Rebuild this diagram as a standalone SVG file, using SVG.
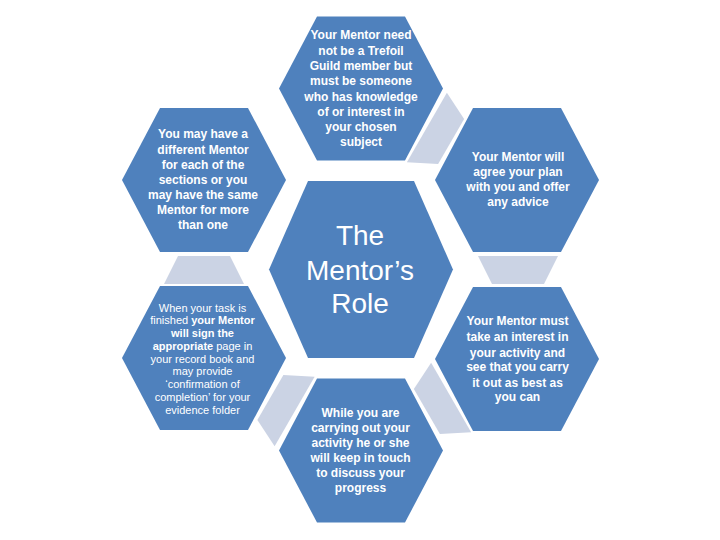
<svg xmlns="http://www.w3.org/2000/svg" width="720" height="540" viewBox="0 0 720 540">
<style>
.hex{fill:#4F81BD}
.con{fill:#CBD3E4}
.t{font-family:"Liberation Sans",Arial,sans-serif;font-size:12px;font-weight:bold;fill:#FFFFFF;text-anchor:middle}
.s{font-family:"Liberation Sans",Arial,sans-serif;font-size:11px;fill:#FFFFFF;text-anchor:middle}
.b{font-weight:bold}
.c{font-family:"Liberation Sans",Arial,sans-serif;font-size:28px;fill:#FFFFFF;text-anchor:middle}
</style>
<defs>
<polygon id="ohex" points="-44,-72 44,-72 82,0 44,72 -44,72 -82,0"/>
<polygon id="chex" points="-53,-88.5 53,-88.5 92,0 53,88.5 -53,88.5 -92,0"/>
<polygon id="trap" points="-40,-14 40,-14 26,14 -26,14"/>
</defs>
<rect width="720" height="540" fill="#FFFFFF"/>
<g id="connectors">
<use href="#trap" class="con" transform="translate(439,134.5) rotate(-60)"/>
<use href="#trap" class="con" transform="translate(518,270)"/>
<use href="#trap" class="con" transform="translate(439,404.5) rotate(60)"/>
<use href="#trap" class="con" transform="translate(282.5,404.5) rotate(120)"/>
<use href="#trap" class="con" transform="translate(204,270) rotate(180)"/>
</g>
<g id="center">
<use href="#chex" class="hex" transform="translate(361,269.5)"/>
<text class="c" x="360" y="245">The</text>
<text class="c" x="360" y="280">Mentor’s</text>
<text class="c" x="360" y="313">Role</text>
</g>
<g id="top">
<use href="#ohex" class="hex" transform="translate(361,88.5)"/>
<text class="t" x="361" y="39">Your Mentor need</text>
<text class="t" x="361" y="54.5">not be a Trefoil</text>
<text class="t" x="361" y="70">Guild member but</text>
<text class="t" x="361" y="85">must be someone</text>
<text class="t" x="361" y="100.5">who has knowledge</text>
<text class="t" x="361" y="115.5">of or interest in</text>
<text class="t" x="361" y="130.5">your chosen</text>
<text class="t" x="361" y="145.5">subject</text>
</g>
<g id="upper-left">
<use href="#ohex" class="hex" transform="translate(204,180)"/>
<text class="t" x="203" y="138">You may have a</text>
<text class="t" x="203" y="153.5">different Mentor</text>
<text class="t" x="203" y="168.5">for each of the</text>
<text class="t" x="203" y="184">sections or you</text>
<text class="t" x="203" y="199">may have the same</text>
<text class="t" x="203" y="214">Mentor for more</text>
<text class="t" x="203" y="229">than one</text>
</g>
<g id="upper-right">
<use href="#ohex" class="hex" transform="translate(517,180)"/>
<text class="t" x="518" y="161">Your Mentor will</text>
<text class="t" x="518" y="175.5">agree your plan</text>
<text class="t" x="518" y="190.5">with you and offer</text>
<text class="t" x="518" y="205.5">any advice</text>
</g>
<g id="lower-left">
<use href="#ohex" class="hex" transform="translate(204,358)"/>
<text class="s" x="202.5" y="312">When your task is</text>
<text class="s" x="202.5" y="324">finished <tspan class="b">your Mentor</tspan></text>
<text class="s" x="202.5" y="336.5"><tspan class="b">will sign the</tspan></text>
<text class="s" x="202.5" y="349.5"><tspan class="b">appropriate</tspan> page in</text>
<text class="s" x="202.5" y="362.5">your record book and</text>
<text class="s" x="202.5" y="375">may provide</text>
<text class="s" x="202.5" y="388">‘confirmation of</text>
<text class="s" x="202.5" y="401">completion’ for your</text>
<text class="s" x="202.5" y="414">evidence folder</text>
</g>
<g id="lower-right">
<use href="#ohex" class="hex" transform="translate(517,359)"/>
<text class="t" x="517.5" y="325">Your Mentor must</text>
<text class="t" x="517.5" y="341">take an interest in</text>
<text class="t" x="517.5" y="356.5">your activity and</text>
<text class="t" x="517.5" y="371">see that you carry</text>
<text class="t" x="517.5" y="386.5">it out as best as</text>
<text class="t" x="517.5" y="401">you can</text>
</g>
<g id="bottom">
<use href="#ohex" class="hex" transform="translate(361,450.5)"/>
<text class="t" x="360.5" y="416.5">While you are</text>
<text class="t" x="360.5" y="432">carrying out your</text>
<text class="t" x="360.5" y="447">activity he or she</text>
<text class="t" x="360.5" y="462">will keep in touch</text>
<text class="t" x="360.5" y="477">to discuss your</text>
<text class="t" x="360.5" y="492">progress</text>
</g>
</svg>
